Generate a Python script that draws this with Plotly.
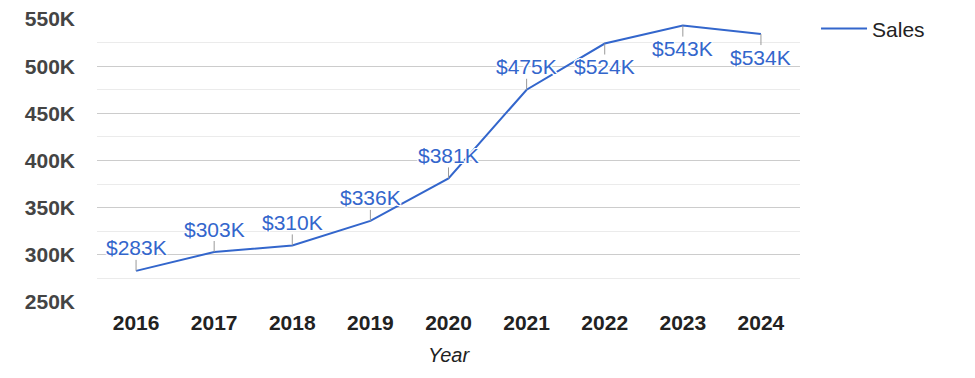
import plotly.graph_objects as go

years = ["2016", "2017", "2018", "2019", "2020", "2021", "2022", "2023", "2024"]
sales = [283000, 303000, 310000, 336000, 381000, 475000, 524000, 543000, 534000]
labels = ["$283K", "$303K", "$310K", "$336K", "$381K", "$475K", "$524K", "$543K", "$534K"]
label_above = [True, True, True, True, True, True, False, False, False]
y_tickvals = [250000, 300000, 350000, 400000, 450000, 500000, 550000]
y_ticktext = ["250K", "300K", "350K", "400K", "450K", "500K", "550K"]

BLUE = "#3366cc"
FONT = "Liberation Sans, Arial, sans-serif"
halo = ("1px 0 0 #fff, -1px 0 0 #fff, 0 1px 0 #fff, 0 -1px 0 #fff, "
        "1px 1px 0 #fff, -1px -1px 0 #fff, 1px -1px 0 #fff, -1px 1px 0 #fff")

fig = go.Figure()
fig.add_trace(go.Scatter(x=years, y=sales, mode="lines", name="Sales",
                         line=dict(color=BLUE, width=2), hoverinfo="x+y"))

shapes = []
annotations = []
for i, (v, lab, up) in enumerate(zip(sales, labels, label_above)):
    sgn = 1 if up else -1
    shapes.append(dict(type="line", xref="x", yref="y", ysizemode="pixel",
                       yanchor=v, x0=i, x1=i, y0=0, y1=11 * sgn,
                       line=dict(color="#999999", width=1)))
    annotations.append(dict(x=i, y=v, xref="x", yref="y", text=lab,
                            showarrow=False, yanchor="middle", yshift=23 * sgn,
                            font=dict(family=FONT, size=21, color=BLUE, shadow=halo)))

annotations.append(dict(x=0.5, xref="paper", y=0, yref="paper", yshift=-53,
                        text="<i>Year</i>", showarrow=False, yanchor="middle",
                        font=dict(family=FONT, size=20, color="#222222")))

fig.update_layout(
    width=975, height=378,
    margin=dict(l=97, r=175, t=19, b=76, autoexpand=False),
    paper_bgcolor="white", plot_bgcolor="white",
    font=dict(family=FONT, color="#222222"),
    shapes=shapes, annotations=annotations,
    showlegend=True,
    legend=dict(x=1.0228, xanchor="left", y=1.038, yanchor="top", xref="paper",
                font=dict(family=FONT, size=21, color="#222222"),
                bgcolor="rgba(0,0,0,0)", itemwidth=46, tracegroupgap=0),
    xaxis=dict(type="category", range=[-0.5, 8.5], showgrid=False, showline=False,
               zeroline=False, ticks="", automargin=False,
               tickfont=dict(family=FONT, size=21, color="#222222", weight="bold"),
               ticklabelstandoff=6),
    yaxis=dict(range=[250000, 550000], tickvals=y_tickvals, ticktext=y_ticktext,
               showgrid=True, gridcolor="#cccccc", gridwidth=1, zeroline=False,
               showline=False, ticks="", automargin=False,
               tickfont=dict(family=FONT, size=21, color="#444444", weight="bold"),
               ticklabelstandoff=21,
               minor=dict(dtick=25000, tick0=250000, showgrid=True,
                          gridcolor="#ebebeb", gridwidth=1)),
)

fig.write_html("out.html", config={"displayModeBar": False},
               post_script="document.body.style.margin='0';")
